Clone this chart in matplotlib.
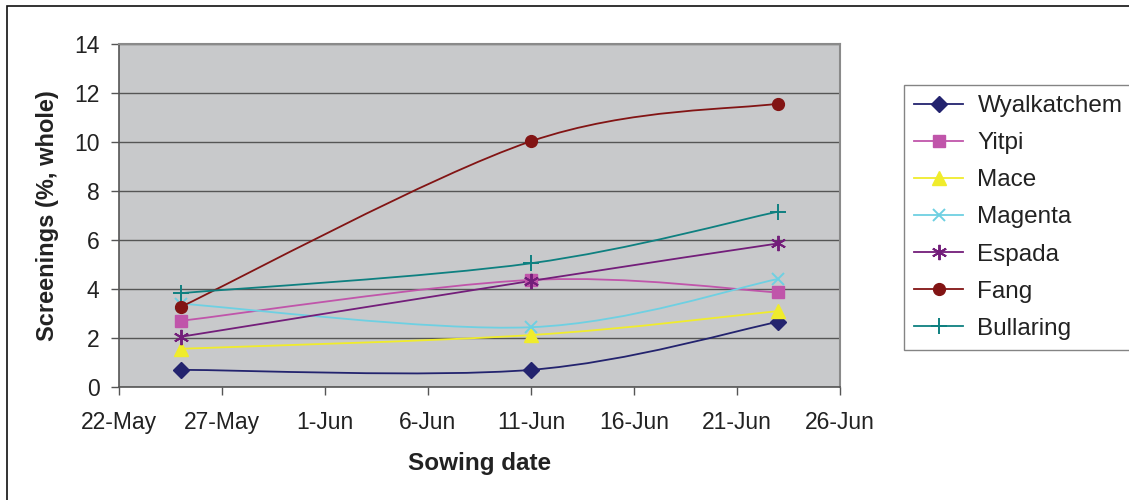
import datetime as dt
import matplotlib
matplotlib.use("Agg")
import matplotlib.pyplot as plt
import matplotlib.dates as mdates
from matplotlib.path import Path
from matplotlib.patches import PathPatch, Rectangle
from matplotlib.lines import Line2D

# ---- data ----
sowing_dates = ["2007-05-25", "2007-06-11", "2007-06-23"]
series_names = ["Wyalkatchem", "Yitpi", "Mace", "Magenta", "Espada", "Fang", "Bullaring"]
wyalkatchem = [0.70, 0.70, 2.66]
yitpi = [2.70, 4.37, 3.86]
mace = [1.56, 2.12, 3.10]
magenta = [3.40, 2.44, 4.41]
espada = [2.05, 4.33, 5.86]
fang = [3.27, 10.03, 11.57]
bullaring = [3.83, 5.05, 7.16]
x_tick_dates = ["2007-05-22", "2007-05-27", "2007-06-01", "2007-06-06",
                "2007-06-11", "2007-06-16", "2007-06-21", "2007-06-26"]
y_ticks = [0, 2, 4, 6, 8, 10, 12, 14]

values = [wyalkatchem, yitpi, mace, magenta, espada, fang, bullaring]
colors = ["#23236e", "#c055aa", "#f0ec2c", "#6ed0e2", "#731e7a", "#821414", "#0e8080"]
markers = ["D", "s", "^", "x", (6, 2, 0), "o", "+"]
msizes = [8.5, 8, 10, 9, 11, 8.5, 11]

plt.rcParams["font.family"] = ["Liberation Sans", "DejaVu Sans"]

fig = plt.figure(figsize=(11.29, 5.0), dpi=100)
ax = fig.add_axes([119 / 1129, 1 - 387 / 500, (840 - 119) / 1129, (387 - 44) / 500])
ax.set_facecolor("#c8c9cb")

xd = [mdates.date2num(dt.date.fromisoformat(d)) for d in sowing_dates]


def smooth_path(xs, ys):
    pts = list(zip(xs, ys))
    n = len(pts)
    verts = [pts[0]]
    codes = [Path.MOVETO]
    for i in range(n - 1):
        p0 = pts[i - 1] if i > 0 else pts[i]
        p1 = pts[i]
        p2 = pts[i + 1]
        p3 = pts[i + 2] if i + 2 < n else pts[i + 1]
        c1 = (p1[0] + (p2[0] - p0[0]) / 6, p1[1] + (p2[1] - p0[1]) / 6)
        c2 = (p2[0] - (p3[0] - p1[0]) / 6, p2[1] - (p3[1] - p1[1]) / 6)
        verts += [c1, c2, p2]
        codes += [Path.CURVE4] * 3
    return Path(verts, codes)


def mew(m):
    return 1.4 if (m in ("x", "+") or isinstance(m, tuple)) else 1


handles = []
for i, (name, ys) in enumerate(zip(series_names, values)):
    col = colors[i]
    patch = PathPatch(smooth_path(xd, ys), facecolor="none", edgecolor=col,
                      lw=1.3, zorder=3 + i)
    ax.add_patch(patch)
    ax.plot(xd, ys, linestyle="none", marker=markers[i], markersize=msizes[i],
            color=col, markeredgecolor=col, markeredgewidth=mew(markers[i]),
            zorder=10 + i)
    handles.append(Line2D([], [], color=col, lw=1.3, marker=markers[i],
                          markersize=msizes[i], markeredgecolor=col,
                          markeredgewidth=mew(markers[i])))

xt = [mdates.date2num(dt.date.fromisoformat(d)) for d in x_tick_dates]
ax.set_xlim(xt[0], xt[-1])
ax.set_xticks(xt)
ax.set_xticklabels([f"{dt.date.fromisoformat(d).day}-{dt.date.fromisoformat(d).strftime('%b')}"
                    for d in x_tick_dates])
ax.set_ylim(0, 14)
ax.set_yticks(y_ticks)
ax.set_yticklabels([str(v) for v in y_ticks])

ax.yaxis.grid(True, color="#555555", lw=1.0)
ax.set_axisbelow(True)
for s in ["left", "bottom"]:
    ax.spines[s].set_color("#555555")
    ax.spines[s].set_linewidth(1.2)
for s in ["top", "right"]:
    ax.spines[s].set_color("#8a8a8a")
    ax.spines[s].set_linewidth(1.5)
ax.tick_params(axis="both", direction="out", length=6, width=1.0, color="#555555",
               labelsize=16.5, labelcolor="#222222")
ax.tick_params(axis="x", pad=11)
ax.tick_params(axis="y", pad=8)

ax.set_xlabel("Sowing date", fontsize=17.5, fontweight="bold", color="#222222", labelpad=13)
ax.set_ylabel("Screenings (%, whole)", fontsize=17, fontweight="bold", color="#222222", labelpad=11)

leg = fig.legend(handles, series_names, loc="upper left",
                 bbox_to_anchor=(904 / 1129, 1 - 85 / 500), bbox_transform=fig.transFigure,
                 fontsize=17.5, frameon=True, fancybox=False, handlelength=2.0,
                 handletextpad=0.6, labelspacing=0.62, borderpad=0.42, borderaxespad=0)
leg.get_frame().set_edgecolor("#666666")
leg.get_frame().set_linewidth(1.0)
for t in leg.get_texts():
    t.set_color("#222222")

border = Rectangle((7 / 1129, -0.05), 1.2, 1 - 6 / 500 + 0.05, transform=fig.transFigure,
                   fill=False, edgecolor="#111111", lw=1.2)
fig.patches.append(border)

fig.savefig("out.png", dpi=100)
